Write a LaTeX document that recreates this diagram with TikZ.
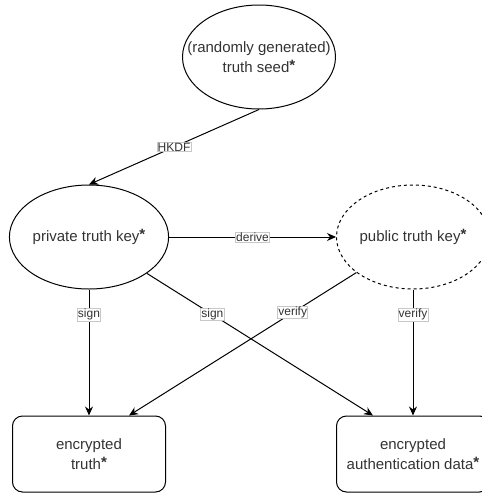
\documentclass[tikz,border=0pt]{standalone}
\usepackage{fontspec}
\setmainfont{Liberation Sans}
\usetikzlibrary{shapes.geometric,arrows.meta}
\newcommand{\keystar}{\raisebox{0.25ex}{\bfseries *}}

\begin{document}
\begin{tikzpicture}[x=1pt,y=-1pt]
            \definecolor{text_color}{RGB}{51,51,51}
            \definecolor{label_frame}{RGB}{200,200,200}
            \tikzstyle{every node} = [text=text_color, font=\fontsize{15}{20}\selectfont, align=center]
            \tikzstyle{oval} = [draw, line width=1pt, shape=ellipse, minimum width=153pt, minimum height=104pt, inner sep=0pt]
            \tikzstyle{store} = [draw, line width=1pt, rounded corners=10pt, minimum width=153pt, minimum height=76pt, inner sep=0pt]
            \tikzstyle{ann} = [fill=white, draw=label_frame, line width=0.6pt, inner sep=0.6pt, font=\fontsize{12}{14}\selectfont]
            \tikzstyle{flow} = [line width=1pt, -{Stealth[length=9pt,width=8pt]}]
            \useasboundingbox (0,0) rectangle (482,493);
            \clip (0,0) rectangle (482,493);
            \node[oval, inner xsep=-30pt] (seed) at (259,57) {(randomly generated)\\truth seed\keystar};
            \node[oval] (priv) at (89,237) {private truth key\keystar};
            \node[oval, dash pattern=on 3pt off 3pt] (pub) at (413,237) {public truth key\keystar};
            \node[store] (truth) at (89,454) {encrypted\\truth\keystar};
            \node[store] (auth) at (413,454) {encrypted\\authentication data\keystar};
            \draw[flow] (seed.south) -- node[ann] {HKDF} (priv.north);
            \draw[flow] (priv) edge node[ann] {derive} (pub);
            \draw[flow] (priv) edge node[ann, pos=0.2] {sign} (truth);
            \draw[flow] (priv) edge node[ann, pos=0.29] {sign} ([xshift=-40pt]auth.north);
            \draw[flow] (pub) edge node[ann, pos=0.28] {verify} ([xshift=40pt]truth.north);
            \draw[flow] (pub) edge node[ann, pos=0.2] {verify} (auth);
        \end{tikzpicture}
\end{document}
